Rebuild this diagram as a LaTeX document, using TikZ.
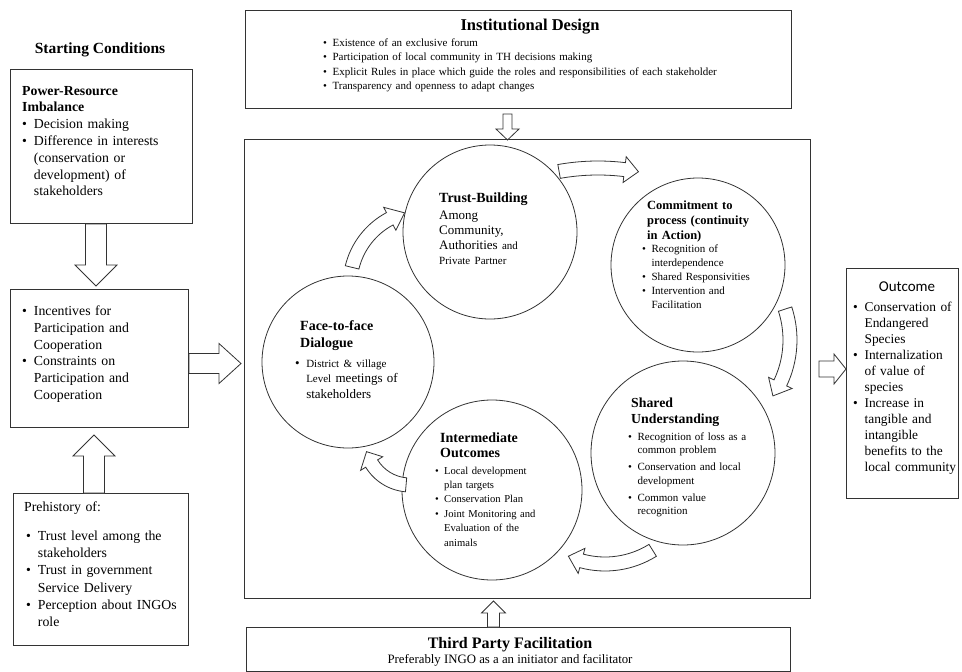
\documentclass[tikz,border=0pt]{standalone}
\usepackage{fontspec}
\setmainfont{Liberation Serif}
\newfontfamily\calfont{Carlito}
\usetikzlibrary{positioning}

\newcommand{\fs}[2]{\fontsize{#1}{#2}\selectfont}
\newcommand{\bl}{\makebox[0.85em][l]{\textbullet}}
\newcommand{\ind}{\hspace*{0.85em}}
% straight block arrow: start, direction, length, shaft half, head half, head length
\newcommand{\fatarrow}[6]{%
  \draw[blockarrow,shift={(#1)},rotate=#2] (0,-#4) -- (#3-#6,-#4) -- (#3-#6,-#5) -- (#3,0)
    -- (#3-#6,#5) -- (#3-#6,#4) -- (0,#4) -- cycle;}
% bent block arrow: centre, radius, from angle, to angle, head length
\newcommand{\bendarrow}[5]{%
  \pgfmathsetmacro{\bhd}{#4-#5/#2*57.3}%
  \pgfmathsetmacro{\bro}{#2+7}\pgfmathsetmacro{\bri}{#2-7}%
  \pgfmathsetmacro{\bhro}{#2+13}\pgfmathsetmacro{\bhri}{#2-13}%
  \draw[blockarrow,shift={#1}] (#3:\bro) arc[start angle=#3,end angle=\bhd,radius=\bro]
    -- (\bhd:\bhro) -- (#4:#2) -- (\bhd:\bhri) -- (\bhd:\bri)
    arc[start angle=\bhd,end angle=#3,radius=\bri] -- cycle;}

\begin{document}
\begin{tikzpicture}[x=1pt,y=-1pt,
  frame/.style={draw=black!80,line width=1pt,anchor=north west,inner sep=0pt},
  circ/.style={circle,draw=black!80,line width=0.8pt,inner sep=0pt},
  txt/.style={anchor=base west,align=left,inner sep=0pt,text width=230pt},
  blockarrow/.style={draw=black!80,fill=white,line width=0.8pt,line join=miter}]
  \useasboundingbox (0,0) rectangle (962,672);

  % left column
  \node[font=\fs{15.5}{18}\bfseries] (startlbl) at (100,50) {Starting Conditions};
  \node[frame,minimum width=182,minimum height=154] (power) at (10,69) {};
  \node[txt,font=\fs{13.8}{16.8}] (powertxt) at (22,95)
    {\textbf{Power-Resource}\\ \textbf{Imbalance}\\ \bl Decision making\\ \bl Difference in interests\\
     \ind (conservation or\\ \ind development) of\\ \ind stakeholders};
  \node[frame,minimum width=178,minimum height=138] (incent) at (10,289) {};
  \node[txt,font=\fs{13.8}{16.8}] (incenttxt) at (22,315.5)
    {\bl Incentives for\\ \ind Participation and\\ \ind Cooperation\\ \bl Constraints on\\
     \ind Participation and\\ \ind Cooperation};
  \node[frame,minimum width=175,minimum height=152] (prehist) at (13,493) {};
  \node[txt,font=\fs{13.8}{17}] (prehisttitle) at (24,511.5) {Prehistory of:};
  \node[txt,font=\fs{13.8}{17.2}] (prehisttxt) at (26,540.5)
    {\bl Trust level among the\\ \ind stakeholders\\ \bl Trust in government\\ \ind Service Delivery\\
     \bl Perception about INGOs\\ \ind role};

  % top and bottom
  \node[frame,minimum width=546,minimum height=98] (inst) at (245,10) {};
  \node[font=\fs{16.5}{19}\bfseries] (insttitle) at (530,27) {Institutional Design};
  \node[txt,text width=460pt,font=\fs{11}{14.3}] (insttxt) at (323,46.5)
    {\bl Existence of an exclusive forum\\ \bl Participation of local community in TH decisions making\\
     \bl Explicit Rules in place which guide the roles and responsibilities of each stakeholder\\
     \bl Transparency and openness to adapt changes};
  \node[frame,minimum width=566,minimum height=459] (main) at (244,139) {};
  \node[frame,minimum width=544,minimum height=44] (third) at (246,627) {};
  \node[font=\fs{16}{18}\bfseries] (thirdtitle) at (510,645) {Third Party Facilitation};
  \node[font=\fs{12.8}{15}] (thirdtxt) at (510,660) {Preferably INGO as a an initiator and facilitator};

  % outcome
  \node[frame,minimum width=112,minimum height=230] (outcome) at (846,268) {};
  \node[font=\fs{15}{17}\calfont] (outcometitle) at (907,287) {Outcome};
  \node[txt,font=\fs{13.4}{16}] (outcometxt) at (853,311.5)
    {\bl Conservation of\\ \ind Endangered\\ \ind Species\\ \bl Internalization\\ \ind of value of\\
     \ind species\\ \bl Increase in\\ \ind tangible and\\ \ind intangible\\ \ind benefits to the\\
     \ind local community};

  % cycle
  \node[circ,minimum size=174] (trust) at (490,232) {};
  \node[circ,minimum size=174] (commit) at (698,265) {};
  \node[circ,minimum size=184] (shared) at (683,453) {};
  \node[circ,minimum size=180] (inter) at (492,490) {};
  \node[circ,minimum size=172] (face) at (348,362) {};

  \node[txt,font=\fs{14}{16}\bfseries] (trusttitle) at (439,202) {Trust-Building};
  \node[txt,font=\fs{13}{15}] (trusttxt) at (439,219.5)
    {Among\\ Community,\\ Authorities {\fs{11}{13}and}\\ {\fs{11}{13}Private Partner}};
  \node[txt,font=\fs{12.5}{15}\bfseries] (committitle) at (647,209.5)
    {Commitment to\\ process (continuity\\ in Action)};
  \node[txt,font=\fs{11}{14.2}] (committxt) at (642,252)
    {\bl Recognition of\\ \ind interdependence\\ \bl Shared Responsivities\\ \bl Intervention and\\
     \ind Facilitation};
  \node[txt,font=\fs{13.8}{16}\bfseries] (sharedtitle) at (631,407) {Shared\\ Understanding};
  \node[txt,font=\fs{11}{13.5}] (sharedtxt) at (628,440)
    {\bl Recognition of loss as a\\ \ind common problem\\[3.5pt] \bl Conservation and local\\
     \ind development\\[3.5pt] \bl Common value\\ \ind recognition};
  \node[txt,font=\fs{14}{15.5}\bfseries] (intertitle) at (440,442) {Intermediate\\ Outcomes};
  \node[txt,font=\fs{10.6}{14.4}] (intertxt) at (435,474)
    {\bl Local development\\ \ind plan targets\\ \bl Conservation Plan\\ \bl Joint Monitoring and\\
     \ind Evaluation of the\\ \ind animals};
  \node[txt,font=\fs{14}{17}\bfseries] (facetitle) at (300,330) {Face-to-face\\ Dialogue};
  \node[txt,font=\fs{13}{15.5}] (facetxt) at (295,367)
    {\bl{\fs{11}{13}District \& village}\\ \ind{\fs{11}{13}Level} meetings of\\ \ind stakeholders};

  % block arrows
  \fatarrow{[xshift=-5.5pt]power.south}{-90}{62}{10.5}{21}{21}
  \fatarrow{[yshift=-5pt]incent.east}{0}{52}{10}{20}{22}
  \fatarrow{[xshift=-7pt]prehist.north}{90}{58}{10.5}{21}{21}
  \fatarrow{[xshift=-11pt,yshift=-5pt]inst.south}{-90}{26}{4.5}{11.5}{11}
  \fatarrow{[xshift=-25pt]third.north}{90}{26}{6}{12}{12}
  \fatarrow{[xshift=8pt]main.east}{0}{27}{8}{15}{12}

  \bendarrow{(425,285)}{75}{193.6}{254.2}{16}
  \bendarrow{(598,390)}{222}{259.9}{280.5}{14}
  \bendarrow{(690,340)}{100}{-18}{34}{15}
  \bendarrow{(605,474)}{90}{58}{114}{14}
  \bendarrow{(410,440)}{45}{95}{165}{13}
\end{tikzpicture}
\end{document}
